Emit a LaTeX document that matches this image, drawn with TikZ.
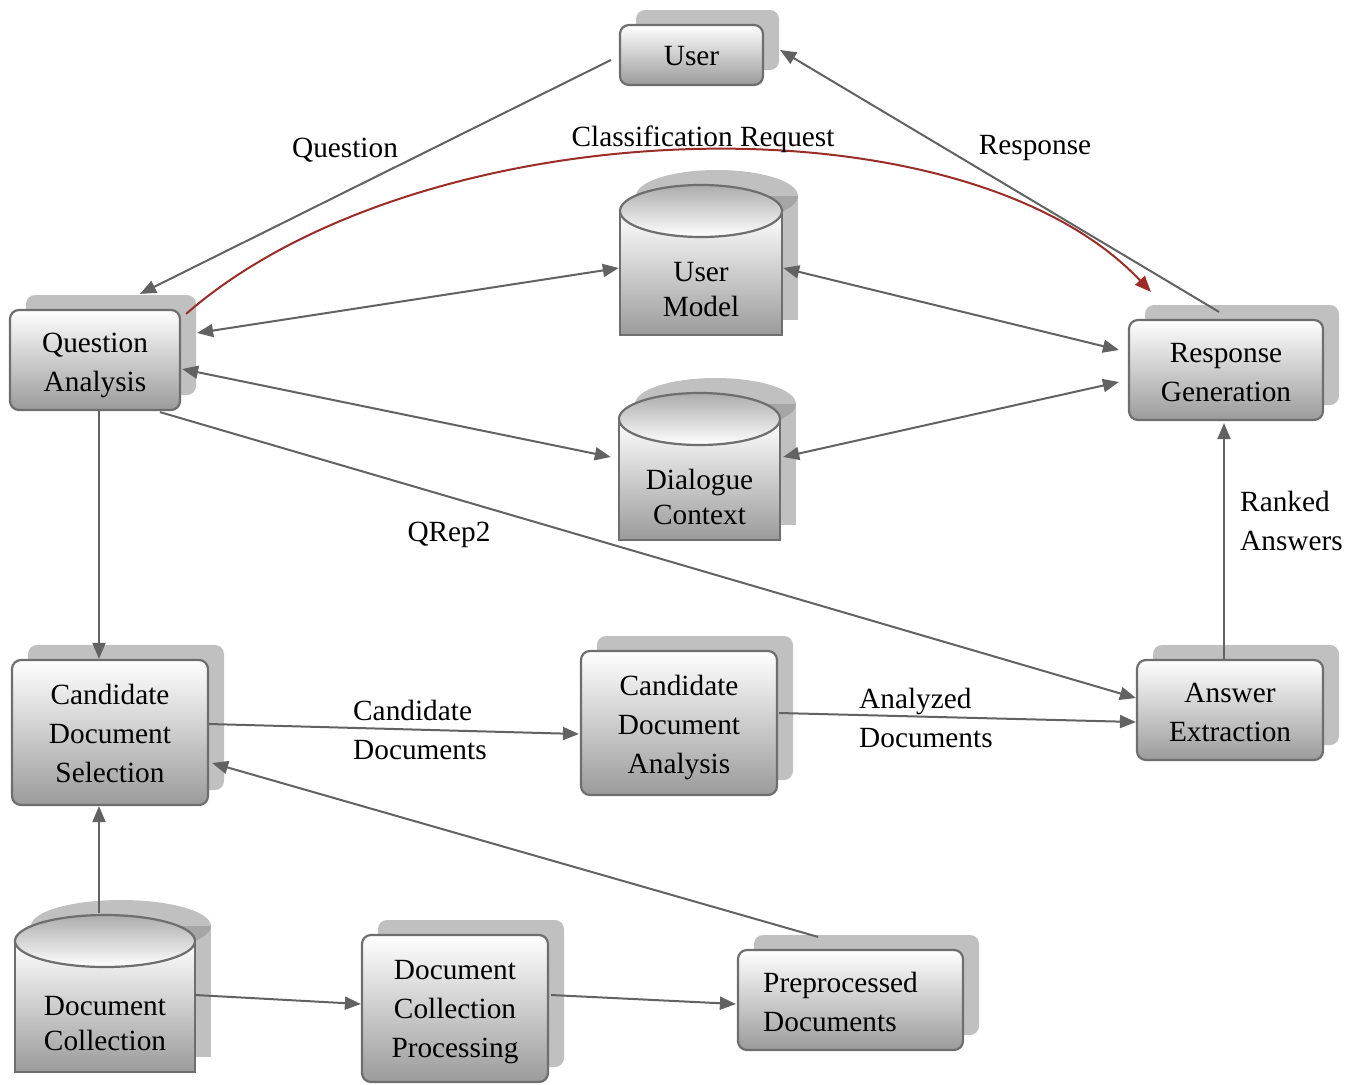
\documentclass[tikz,border=0pt]{standalone}
\usepackage{fontspec}
\setmainfont{Liberation Serif}
\usetikzlibrary{arrows.meta,shadows,calc}

\definecolor{linegray}{RGB}{98,98,98}
\definecolor{bordergray}{RGB}{110,110,110}
\definecolor{boxgray}{RGB}{155,155,155}
\definecolor{shadowgray}{RGB}{192,192,192}
\definecolor{shadowdark}{RGB}{165,165,165}
\definecolor{topgray}{RGB}{172,172,172}
\definecolor{reqred}{RGB}{155,45,40}

\newcommand{\txtfont}{\fontsize{29.3}{39}\selectfont}

\tikzset{
  box/.style={rectangle, rounded corners=9pt, draw=bordergray, line width=2.2pt,
    top color=white, bottom color=boxgray, inner sep=0pt,
    general shadow={shadow xshift=16pt, shadow yshift=15pt, fill=shadowgray, draw=none}},
  flow/.style={draw=linegray, line width=2pt, -{Triangle[length=16pt,width=13pt]}},
  both/.style={flow, {Triangle[length=16pt,width=13pt]}-{Triangle[length=16pt,width=13pt]}},
  lbl/.style={font=\txtfont, inner sep=0pt},
  boxtxt/.style={lbl, align=center}
}

% database cylinder: name, left, right, top, bottom, text
\newcommand{\dbcyl}[6]{%
  \pgfmathsetmacro{\cx}{(#2+#3)/2}
  \pgfmathsetmacro{\rx}{(#3-#2)/2}
  \pgfmathsetmacro{\ey}{#4+26}
  % shadow
  \fill[shadowgray] ({#2+16},{\ey-15}) rectangle ({#3+16},{#5-15});
  \fill[shadowgray] ({\cx+16},{\ey-15}) ellipse [x radius=\rx pt, y radius=26pt];
  \fill[shadowdark] ({#2+16},{\ey-15}) arc [start angle=180, end angle=360, x radius=\rx pt, y radius=26pt] -- cycle;
  % body
  \shade[top color=white, bottom color=boxgray] (#2,\ey) rectangle (#3,#5);
  \draw[bordergray, line width=2.2pt] (#2,\ey) -- (#2,#5) -- (#3,#5) -- (#3,\ey);
  \shade[top color=topgray, bottom color=white, draw=bordergray, line width=2.2pt]
    (\cx,\ey) ellipse [x radius=\rx pt, y radius=26pt];
  \node[inner sep=0pt, minimum width={(#3-#2)*1pt}, minimum height={(#5-#4)*1pt}] (#1) at (\cx,{(#4+#5)/2}) {};
  \node[boxtxt, font=\fontsize{29.3}{35}\selectfont] (#1-txt) at (\cx,{(#4+52+#5)/2+4}) {#6};
}

\begin{document}
\begin{tikzpicture}[x=1pt,y=-1pt]
\useasboundingbox (0,0) rectangle (1356,1084);

% Boxes
\node[box, minimum width=143pt, minimum height=60pt] (user) at (691.5,55) {};
\node[box, minimum width=170pt, minimum height=100pt] (qa) at (95,360) {};
\node[box, minimum width=194pt, minimum height=100pt] (rg) at (1226,370) {};
\node[box, minimum width=196pt, minimum height=145pt] (cds) at (110,732.5) {};
\node[box, minimum width=196pt, minimum height=144pt] (cda) at (679,723) {};
\node[box, minimum width=186pt, minimum height=100pt] (ae) at (1230,710) {};
\node[box, minimum width=186pt, minimum height=147pt] (dcp) at (455,1008.5) {};
\node[box, minimum width=225pt, minimum height=100pt] (pd) at (850.5,1000) {};

% Box texts
\node[boxtxt] (user-txt) at ($(user)+(0,1)$) {User};
\node[boxtxt] (qa-txt) at ($(qa)+(0,5)$) {Question\\Analysis};
\node[boxtxt] (rg-txt) at ($(rg)+(0,2.5)$) {Response\\Generation};
\node[boxtxt] (cds-txt) at ($(cds)+(0,1)$) {Candidate\\Document\\Selection};
\node[boxtxt] (cda-txt) at ($(cda)+(0,4)$) {Candidate\\Document\\Analysis};
\node[boxtxt] (ae-txt) at ($(ae)+(0,2)$) {Answer\\Extraction};
\node[boxtxt] (dcp-txt) at ($(dcp)+(0,4)$) {Document\\Collection\\Processing};
\node[boxtxt, align=left] (pd-txt) at ($(pd)+(-10,2)$) {Preprocessed\\Documents};

% Databases
\dbcyl{um}{620}{782}{185}{335}{User\\Model}
\dbcyl{dlg}{619}{780}{393}{540}{Dialogue\\Context}
\dbcyl{dc}{15}{195}{915}{1072}{Document\\Collection}

% Connectors
\draw[flow] ($(user.west)+(-8,5)$) -- ($(qa.north)+(45,-15)$);
\draw[flow] ($(rg.north)+(-7,-7)$) -- ($(user.east)+(16,-5)$);
\draw[flow, draw=reqred] ($(qa.north east)+(5,5)$) .. controls (420,110) and (960,90) .. ($(rg.north west)+(23,-27)$);
\draw[both] ($(qa.east)+(16,-27)$) -- ($(um.west)+(-1,8)$);
\draw[both] ($(um.east)+(1,8)$) -- ($(rg.west)+(-9,-20)$);
\draw[both] ($(qa.east)+(1,9)$) -- ($(dlg.west)+(-8,-9.5)$);
\draw[both] ($(dlg.east)+(3,-9.5)$) -- ($(rg.west)+(-9,12)$);
\draw[flow] ($(qa.south)+(65,1)$) -- ($(ae.west)+(0,-12)$);
\draw[flow] ($(qa.south)+(4,0)$) -- ($(cds.north)+(-11,0)$);
\draw[flow] ($(cds.east)+(0,-8.5)$) -- ($(cda.west)+(-1,11)$);
\draw[flow] ($(cda.east)+(1,-10)$) -- ($(ae.west)+(0,12)$);
\draw[flow] ($(ae.north)+(-6,0)$) -- ($(rg.south)+(-2,2)$);
\draw[flow] ($(dc.north)+(-6,-2)$) -- ($(cds.south)+(-11,0)$);
\draw[flow] ($(dc.east)+(0,1.5)$) -- ($(dcp.west)+(0,-4.5)$);
\draw[flow] ($(dcp.east)+(2,-13.5)$) -- ($(pd.west)+(-1,4)$);
\draw[flow] ($(pd.north)+(-32.5,-12)$) -- ($(cds.east)+(3,30.5)$);

% Labels
\node[lbl] (lq) at (345,150) {Question};
\node[lbl] (lcr) at (703,139) {Classification Request};
\node[lbl] (lr) at (1035,148) {Response};
\node[lbl] (lqr) at (449,535) {QRep2};
\node[lbl, anchor=west, align=left] (lcd) at (353,730) {Candidate\\Documents};
\node[lbl, anchor=west, align=left] (lad) at (859,718) {Analyzed\\Documents};
\node[lbl, anchor=west, align=left] (lra) at (1240,521) {Ranked\\Answers};
\end{tikzpicture}
\end{document}
